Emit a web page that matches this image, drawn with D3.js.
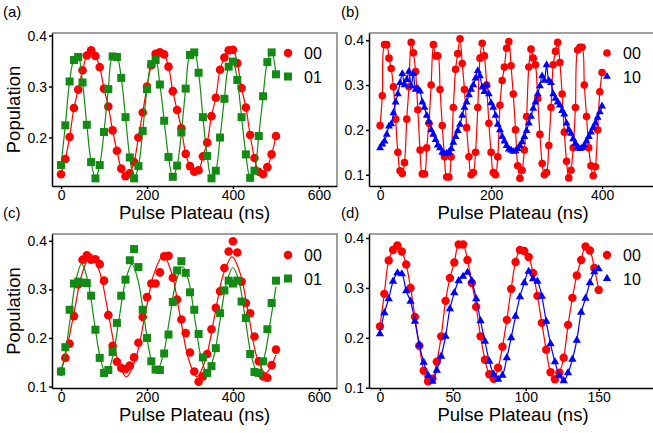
<!DOCTYPE html>
<html>
<head>
<meta charset="utf-8">
<style>
 body { margin: 0; background: #fff; }
 svg { font-family: "Liberation Sans", Arial, sans-serif; background: #fff; }
 .frame { fill: none; stroke: #808080; stroke-width: 1.5px; }
 .axis path, .axis line { stroke: #000; stroke-width: 1.5px; }
 .axis text { font-size: 14px; fill: #000; font-family: "Liberation Sans", Arial, sans-serif; }
 .title { font-size: 18.5px; fill: #000; }
 .tag { font-size: 15px; fill: #000; }
 .leg { font-size: 16px; fill: #000; }
 .fit { fill: none; stroke-width: 1.2px; }
</style>
</head>
<body>
<svg width="653" height="433"></svg>
<script src="https://cdn.jsdelivr.net/npm/d3@7"></script>
<script>
var red = "#ff0000", green = "#138a13", blue = "#0000ff";

// x samples (ns)
var tA = d3.range(0, 501, 10);
var tB = d3.range(0, 401, 4);
var tC = d3.range(0, 501, 10);
var tD = d3.range(0, 151, 3);

// (a) populations
var a00 = [0.128,0.158,0.201,0.258,0.294,0.332,0.361,0.371,0.360,0.338,
           0.296,0.261,0.214,0.174,0.139,0.124,0.130,0.152,0.200,0.249,
           0.300,0.342,0.364,0.367,0.363,0.339,0.291,0.254,0.218,0.168,
           0.144,0.133,0.136,0.163,0.190,0.242,0.278,0.333,0.357,0.371,
           0.372,0.346,0.297,0.259,0.205,0.160,0.133,0.128,0.142,0.167,
           0.203];
var a01 = [0.146,0.224,0.310,0.352,0.358,0.308,0.225,0.152,0.120,0.146,
           0.211,0.295,0.359,0.358,0.317,0.240,0.161,0.120,0.144,0.213,
           0.295,0.344,0.352,0.304,0.233,0.162,0.123,0.145,0.210,0.296,
           0.362,0.367,0.327,0.240,0.164,0.120,0.135,0.200,0.276,0.339,
           0.349,0.313,0.240,0.167,0.121,0.135,0.203,0.281,0.348,0.367,
           0.324];

// (b) populations
var b00 = [0.210,0.276,0.390,0.390,0.360,0.337,0.296,0.224,0.150,0.109,0.103,
           0.127,0.224,0.296,0.395,0.372,0.330,0.245,0.155,0.102,0.102,0.160,
           0.215,0.300,0.390,0.365,0.365,0.290,0.210,0.140,0.095,0.095,0.140,
           0.250,0.335,0.370,0.403,0.348,0.290,0.205,0.140,0.100,0.105,0.150,
           0.250,0.360,0.393,0.365,0.300,0.215,0.150,0.105,0.100,0.140,0.255,
           0.310,0.340,0.382,0.397,0.343,0.280,0.200,0.120,0.092,0.110,0.155,
           0.230,0.340,0.380,0.360,0.345,0.270,0.190,0.125,0.100,0.105,0.165,
           0.250,0.345,0.375,0.395,0.350,0.280,0.195,0.130,0.093,0.110,0.160,
           0.250,0.378,0.384,0.384,0.300,0.230,0.160,0.120,0.098,0.118,0.200,
           0.285,0.328];
var b10 = [0.160,0.168,0.175,0.190,0.208,0.213,0.238,0.262,0.280,0.305,
           0.325,0.300,0.312,0.330,0.298,0.325,0.290,0.292,0.286,0.262,
           0.250,0.232,0.218,0.200,0.190,0.178,0.166,0.160,0.150,0.147,
           0.148,0.150,0.158,0.172,0.185,0.198,0.212,0.232,0.250,0.262,
           0.278,0.290,0.300,0.315,0.332,0.320,0.295,0.285,0.300,0.280,
           0.260,0.250,0.232,0.212,0.200,0.185,0.175,0.165,0.157,0.155,
           0.152,0.153,0.158,0.165,0.173,0.185,0.198,0.215,0.230,0.248,
           0.262,0.280,0.298,0.320,0.310,0.345,0.310,0.305,0.280,0.270,
           0.262,0.255,0.243,0.235,0.215,0.200,0.192,0.180,0.170,0.162,
           0.158,0.160,0.165,0.175,0.185,0.195,0.205,0.215,0.228,0.240,
           0.253];

// (c) populations and fitted curves
var c00 = [0.131,0.159,0.188,0.245,0.310,0.361,0.370,0.361,0.362,0.352,
           0.318,0.247,0.184,0.151,0.138,0.136,0.143,0.160,0.190,0.243,
           0.284,0.312,0.312,0.335,0.368,0.369,0.324,0.279,0.238,0.210,
           0.170,0.131,0.110,0.121,0.167,0.218,0.262,0.296,0.344,0.378,
           0.399,0.376,0.316,0.272,0.251,0.203,0.152,0.121,0.118,0.144,
           0.176];
var c01 = [0.131,0.181,0.258,0.312,0.316,0.314,0.313,0.287,0.217,0.159,
           0.128,0.134,0.171,0.231,0.287,0.320,0.360,0.383,0.346,0.258,
           0.200,0.152,0.135,0.134,0.168,0.207,0.274,0.339,0.358,0.334,
           0.294,0.258,0.208,0.160,0.128,0.142,0.179,0.251,0.298,0.318,
           0.312,0.318,0.275,0.241,0.167,0.130,0.128,0.152,0.218,0.272,
           0.318];
var cFitX00 = [0,8.5,29,49.5,70,90.5,111,131.5,152,173.5,195,216.5,238,257.5,277,296.5,316,
               336.5,357,377.5,398,417.5,437,456.5,476,500];
var cFitY00 = [0.132,0.158,0.246,0.334,0.372,0.334,0.246,0.157,0.120,0.157,0.245,0.333,0.370,
               0.333,0.245,0.157,0.120,0.157,0.244,0.331,0.367,0.331,0.244,0.158,0.128,0.165];
var cFitX01 = [0,8.25,21.5,34.75,48,62.25,76.5,90.75,105,120,135,150,165,179.25,193.5,207.75,222,
               237.25,252.5,267.75,283,297.25,311.5,325.75,340,355,370,385,400,414.5,429,443.5,458,
               472.75,487.5,500];
var cFitY01 = [0.133,0.161,0.240,0.319,0.353,0.318,0.239,0.161,0.125,0.160,0.239,0.318,0.352,
               0.318,0.241,0.163,0.130,0.163,0.239,0.316,0.347,0.316,0.238,0.160,0.128,0.160,
               0.237,0.314,0.345,0.314,0.237,0.160,0.128,0.160,0.237,0.305];

// (d) populations
var d00 = [0.223,0.288,0.355,0.376,0.385,0.373,0.347,0.300,0.242,0.184,
           0.134,0.113,0.118,0.152,0.203,0.274,0.320,0.351,0.387,0.387,
           0.356,0.310,0.262,0.203,0.156,0.127,0.118,0.140,0.182,0.236,
           0.298,0.352,0.376,0.374,0.362,0.330,0.284,0.230,0.176,0.131,
           0.117,0.130,0.160,0.226,0.280,0.325,0.356,0.383,0.375,0.340,
           0.296];
var d10 = [0.208,0.250,0.278,0.313,0.330,0.328,0.294,0.273,0.233,0.186,
           0.151,0.125,0.113,0.135,0.163,0.203,0.258,0.290,0.314,0.323,
           0.331,0.314,0.278,0.234,0.193,0.153,0.127,0.117,0.125,0.160,
           0.200,0.243,0.282,0.310,0.333,0.318,0.313,0.283,0.233,0.188,
           0.152,0.125,0.114,0.130,0.157,0.195,0.251,0.279,0.310,0.332,
           0.338];

var xTicksAC = [0, 200, 400, 600];
var xTicksB = [0, 200, 400];
var xTicksD = [0, 50, 100, 150];
var yTicksA = [0.2, 0.3, 0.4];
var yTicks = [0.1, 0.2, 0.3, 0.4];

var panels = [
  {tag: "(a)", box: [52, 33, 337, 186], xd: [-21, 642], yd: [0.105, 0.405],
   xt: xTicksAC, yt: yTicksA, ytitle: true, leg: [288, 53], r: 4.3, tri: 30,
   series: [{name: "00", x: tA, y: a00, c: red, s: "circle"},
            {name: "01", x: tA, y: a01, c: green, s: "square"}]},
  {tag: "(b)", box: [369, 33, 657, 186], xd: [-20, 499], yd: [0.075, 0.416],
   xt: xTicksB, yt: yTicks, ytitle: false, leg: [607, 53], r: 3.8, tri: 27,
   series: [{name: "00", x: tB, y: b00, c: red, s: "circle"},
            {name: "10", x: tB, y: b10, c: blue, s: "triangle"}]},
  {tag: "(c)", box: [52, 234, 337, 388], xd: [-21, 642], yd: [0.097, 0.414],
   xt: xTicksAC, yt: yTicks, ytitle: true, leg: [288, 255], r: 4.3, tri: 30,
   series: [{name: "00", x: tC, y: c00, c: red, s: "circle", fx: cFitX00, fy: cFitY00},
            {name: "01", x: tC, y: c01, c: green, s: "square", fx: cFitX01, fy: cFitY01}]},
  {tag: "(d)", box: [369, 234, 657, 388], xd: [-7.5, 190], yd: [0.0995, 0.408],
   xt: xTicksD, yt: yTicks, ytitle: false, leg: [607, 255], r: 4.2, tri: 30,
   series: [{name: "00", x: tD, y: d00, c: red, s: "circle"},
            {name: "10", x: tD, y: d10, c: blue, s: "triangle"}]}
];

var svg = d3.select("svg");

function marker(sel, s, c, r, tri){
  if(s == "circle"){
    sel.append("circle").attr("r", r).style("fill", c);
  } else if(s == "square"){
    sel.append("rect").attr("x", -4).attr("y", -4).attr("width", 8).attr("height", 8).style("fill", c);
  } else {
    sel.append("path").attr("d", d3.symbol(d3.symbolTriangle, tri)()).style("fill", c);
  }
}

panels.forEach(function(p){
  var L = p.box[0], T = p.box[1], R = p.box[2], B = p.box[3];
  var x = d3.scaleLinear().domain(p.xd).range([L, R]);
  var y = d3.scaleLinear().domain(p.yd).range([B, T]);
  var g = svg.append("g");

  g.append("path").attr("class", "frame")
   .attr("d", "M" + L + "," + T + "H" + R + "V" + B);

  g.append("g").attr("class", "axis")
   .attr("transform", "translate(0," + B + ")")
   .call(d3.axisBottom(x).tickValues(p.xt).tickSize(3).tickSizeOuter(0).tickPadding(1));
  g.append("g").attr("class", "axis")
   .attr("transform", "translate(" + L + ",0)")
   .call(d3.axisLeft(y).tickValues(p.yt).tickSize(3).tickSizeOuter(0).tickPadding(2)
          .tickFormat(d3.format(".1f")));

  p.series.forEach(function(s){
    var line = d3.line().curve(d3.curveCatmullRom.alpha(0.5))
                 .x(function(d){ return x(d[0]); })
                 .y(function(d){ return y(d[1]); });
    var fx = s.fx || s.x, fy = s.fy || s.y;
    g.append("path").attr("class", "fit").style("stroke", s.c)
     .attr("d", line(d3.zip(fx, fy)));
    g.selectAll(null).data(d3.zip(s.x, s.y)).enter().append("g")
     .attr("transform", function(d){ return "translate(" + x(d[0]) + "," + y(d[1]) + ")"; })
     .each(function(){ marker(d3.select(this), s.s, s.c, p.r, p.tri); });
  });

  p.series.forEach(function(s, i){
    var lg = g.append("g").attr("transform", "translate(" + p.leg[0] + "," + (p.leg[1] + i * 23.5) + ")");
    marker(lg, s.s, s.c, p.r, p.tri);
    lg.append("text").attr("class", "leg").attr("x", 16).attr("y", 6).text(s.name);
  });

  svg.append("text").attr("class", "tag")
     .attr("x", L < 100 ? 3 : 341).attr("y", T - 16).text(p.tag);
  svg.append("text").attr("class", "title")
     .attr("text-anchor", "middle")
     .attr("x", (L + R) / 2).attr("y", B + 33)
     .text("Pulse Plateau (ns)");
  if(p.ytitle){
    svg.append("text").attr("class", "title")
       .attr("text-anchor", "middle")
       .attr("transform", "translate(20," + (T + B) / 2 + ") rotate(-90)")
       .text("Population");
  }
});
</script>
</body>
</html>
